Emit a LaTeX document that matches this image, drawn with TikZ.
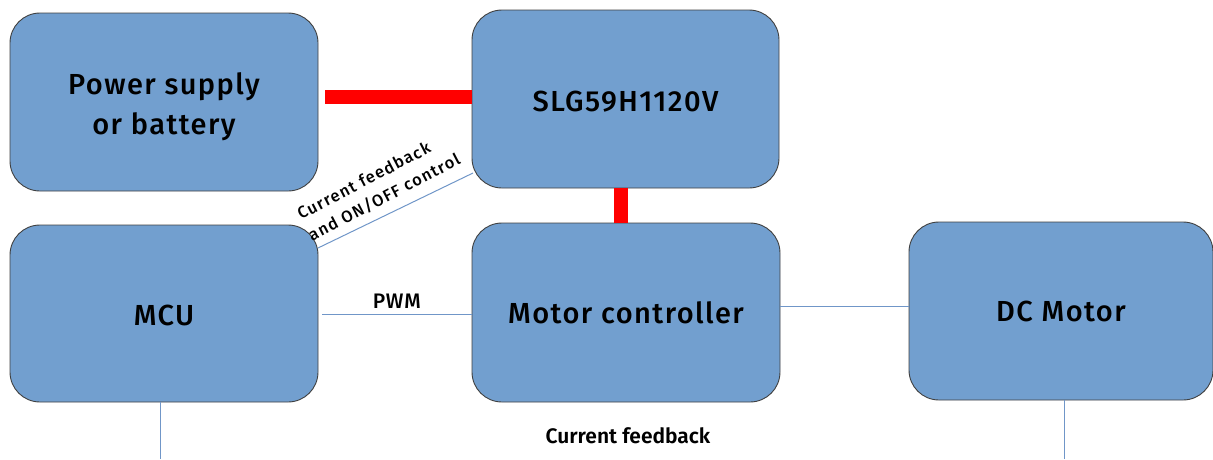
\documentclass[tikz,border=0pt]{standalone}
\usepackage{fontspec}
\setmainfont{Fira Sans}[UprightFont=* Medium, BoldFont=* SemiBold]
\begin{document}
\begin{tikzpicture}[x=1pt,y=-1pt,
  blk/.style={draw=black!75, line width=0.9pt, fill=boxblue, rounded corners=30pt, inner sep=0pt, font=\fontsize{29}{40}\selectfont\addfontfeature{LetterSpace=5}, align=center},
  btxt/.style={inner sep=0pt, font=\fontsize{29}{40}\selectfont\addfontfeature{LetterSpace=5}, align=center},
  pwr/.style={draw=red, line width=14pt},
  sig/.style={draw=lineblue, line width=1pt},
  lbl/.style={font=\fontsize{20}{22}\selectfont, inner sep=1pt}]
\definecolor{boxblue}{RGB}{114,159,207}
\definecolor{lineblue}{RGB}{112,150,200}
\useasboundingbox (0,0) rectangle (1213,459);
\begin{scope}
\clip (0,0) rectangle (1213,459);
\node[blk, minimum width=308pt, minimum height=178pt] (ps) at (164,102) {};
\node[blk, minimum width=307pt, minimum height=178pt] (slg) at (625.5,99) {};
\node[blk, minimum width=308pt, minimum height=177pt] (mcu) at (164,313.5) {};
\node[blk, minimum width=308pt, minimum height=179pt] (mc) at (626,312.5) {};
\node[blk, minimum width=304pt, minimum height=178pt] (dc) at (1061,311) {};
\end{scope}
\node[btxt, yshift=-5pt] (pst) at (ps.center) {Power supply\\or battery};
\node[btxt, yshift=-3pt] (slgt) at (slg.center) {SLG59H1120V};
\node[btxt, yshift=-2pt] (mcut) at (mcu.center) {MCU};
\node[btxt] (mct) at (mc.center) {Motor controller};
\node[btxt] (dct) at (dc.center) {DC Motor};
\coordinate (r1) at (325,97);
\coordinate (r2) at (621,0);
\draw[pwr] (r1) -- (r1 -| slg.west);
\draw[pwr] (r2 |- slg.south) -- (r2 |- mc.north);
\coordinate (c1) at (318,248);
\coordinate (c2) at (473,173);
\draw[sig] (c1) -- node[anchor=south, rotate=27.5, align=left, inner sep=1pt, font=\fontsize{16.5}{24}\selectfont\addfontfeature{LetterSpace=8}, yshift=8pt, xshift=-4pt] {Current feedback\\and ON/OFF control} (c2);
\coordinate (p1) at (322,314);
\draw[sig] (p1) -- node[above, lbl, yshift=4pt, font=\fontsize{21}{22}\selectfont\addfontfeature{LetterSpace=4}] {PWM} (p1 -| mc.west);
\coordinate (m1) at (0,306);
\draw[sig] (m1 -| mc.east) -- (m1 -| dc.west);
\coordinate (b1) at (160,459);
\coordinate (b2) at (1064,459);
\draw[sig] (b1 |- mcu.south) -- (b1);
\draw[sig] (b2 |- dc.south) -- (b2);
\node[lbl, font=\bfseries\fontsize{21}{22}\selectfont] (cf) at (628,436) {Current feedback};
\end{tikzpicture}
\end{document}
